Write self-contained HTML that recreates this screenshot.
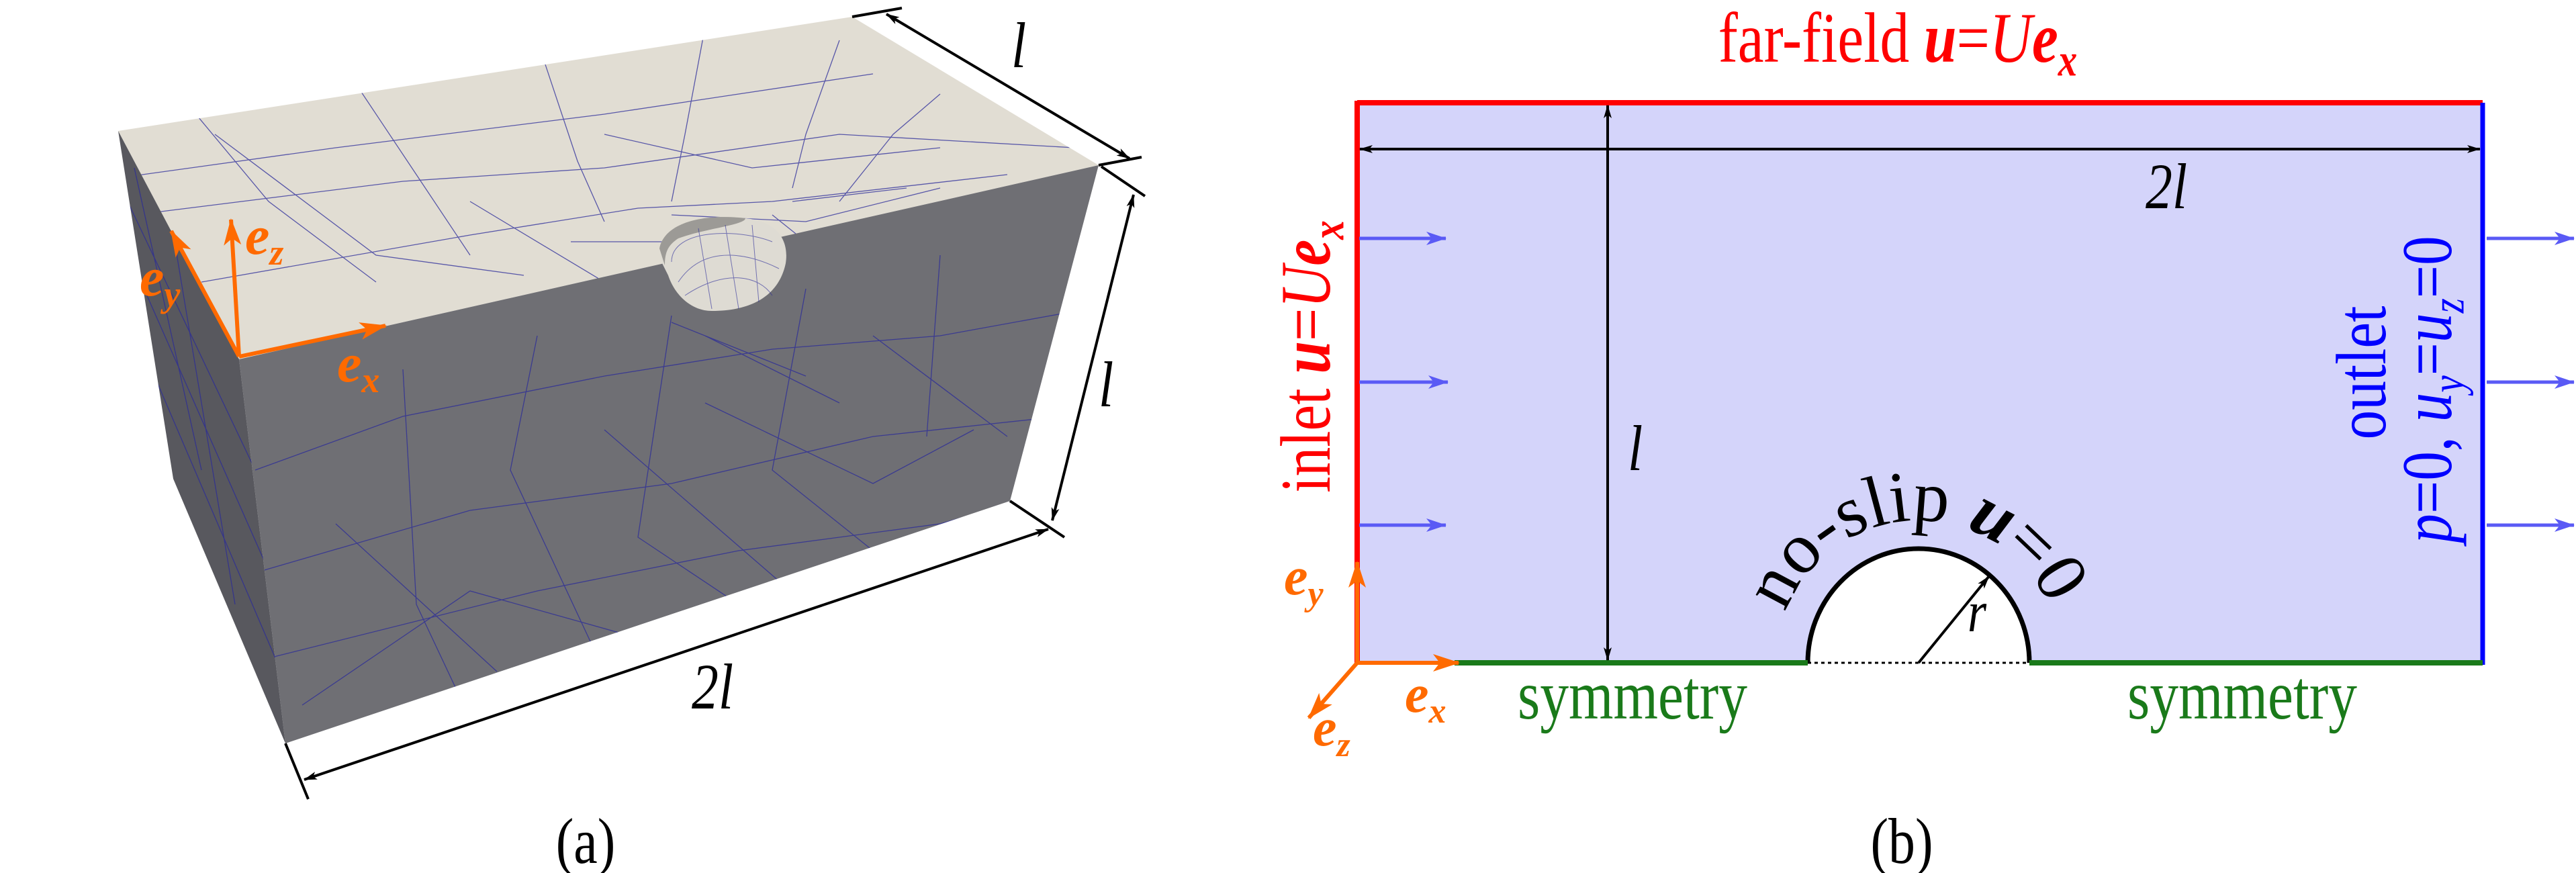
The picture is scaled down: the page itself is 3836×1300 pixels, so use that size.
<!DOCTYPE html>
<html><head><meta charset="utf-8"><style>
html,body{margin:0;padding:0;background:#fff;}
svg{display:block;}
text{font-family:"Liberation Serif",serif;}
</style></head><body>
<svg width="3836" height="1300" viewBox="0 0 3836 1300" xmlns="http://www.w3.org/2000/svg">
<defs>
<marker id="ak" viewBox="0 0 20 12" refX="19" refY="6" markerWidth="20" markerHeight="12" markerUnits="userSpaceOnUse" orient="auto-start-reverse"><path d="M0,0 L20,6 L0,12 L5,6 Z" fill="#000"/></marker>
<marker id="ab" viewBox="0 0 30 20" refX="29" refY="10" markerWidth="30" markerHeight="20" markerUnits="userSpaceOnUse" orient="auto"><path d="M0,0 L30,10 L0,20 L8,10 Z" fill="#5a5af5"/></marker>
<marker id="ao" viewBox="0 0 40 26" refX="38" refY="13" markerWidth="40" markerHeight="26" markerUnits="userSpaceOnUse" orient="auto"><path d="M0,0 L40,13 L0,26 L10,13 Z" fill="#ff6a00"/></marker>
<clipPath id="cfront"><polygon points="356,535 1636,246 1504,746 425,1107"/></clipPath>
<clipPath id="ctop"><polygon points="176,195 1269,25 1636,246 356,535"/></clipPath>
<clipPath id="cleft"><polygon points="176,195 356,535 425,1107 258,713"/></clipPath>
</defs>

<!-- Panel (a) -->
<polygon points="176,195 1269,25 1636,246 356,535" fill="#e1ddd3"/>
<polygon points="356,535 1636,246 1504,746 425,1107" fill="#6f6f74"/>
<polygon points="176,195 356,535 425,1107 258,713" fill="#58585e"/>
<g stroke="#2a2a9a" stroke-width="1.3" fill="none" opacity="0.75">
<g clip-path="url(#ctop)">
<path d="M176,265 L500,220 L900,170 L1300,110 M200,320 L600,270 L900,250 L1250,200 L1600,220 M300,420 L700,350 L950,310 L1150,300 L1500,260 M250,120 L400,300 L560,420 M500,80 L620,260 L700,380 M800,60 L860,240 L900,330 M1050,40 L1020,200 L1000,300 M1250,60 L1200,200 L1180,280 M1400,140 L1330,200 L1250,300 M320,200 L560,380 L780,410 M900,200 L1120,250 L1400,220 M1000,320 L1200,330 L1400,280 M850,360 L1100,360 M700,300 L900,420 M1180,300 L1350,280 M1150,320 L1250,400"/>
</g>
<g clip-path="url(#cfront)">
<path d="M380,700 L600,620 L900,560 L1150,520 L1400,500 L1620,460 M390,850 L700,760 L1000,720 L1300,650 L1580,620 M400,980 L800,880 L1100,820 L1400,780 L1540,740 M600,550 L620,900 L700,1070 M800,500 L760,700 L900,1000 M1000,470 L950,800 L1100,900 M1200,430 L1150,700 L1300,820 M1400,380 L1380,650 M500,780 L740,1000 M900,640 L1200,900 M1300,500 L1500,650 M450,1050 L700,880 L950,950 M1050,600 L1300,720 L1450,640 M1000,480 L1200,560 M1050,500 L1250,600"/>
</g>
<g clip-path="url(#cleft)">
<path d="M190,300 L380,700 M210,420 L400,850 M230,560 L410,980 M200,250 L300,700 M250,300 L350,900"/>
</g>
</g>
<path d="M982,370 C990,330 1050,318 1110,325 C1160,330 1175,360 1170,392 C1160,440 1120,463 1060,463 C1030,463 1005,440 995,410 L985,390 Z" fill="#dedbd3"/>
<path d="M982,370 C990,330 1050,318 1110,325 C1110,335 1050,340 1010,355 C995,365 990,375 990,395 Z" fill="#9c9a96"/>
<path d="M1000,390 C1000,340 1100,340 1150,360 M1010,420 C1050,360 1120,380 1160,400 M1020,440 C1080,400 1130,410 1150,440 M1040,340 L1060,460 M1080,335 L1100,460 M1120,335 L1130,450" stroke="#2a2a9a" stroke-width="1" fill="none" opacity="0.6"/>

<g stroke="#ff6a00" stroke-width="6" fill="none">
<line x1="356" y1="531" x2="574" y2="485" marker-end="url(#ao)"/>
<line x1="356" y1="531" x2="344" y2="327" marker-end="url(#ao)"/>
<line x1="356" y1="531" x2="255" y2="344" marker-end="url(#ao)"/>
</g>
<g fill="#ff6a00" font-weight="bold" font-style="italic" font-size="82">
<text x="365" y="378">e<tspan font-size="54" dy="16">z</tspan></text>
<text x="208" y="440">e<tspan font-size="54" dy="16">y</tspan></text>
<text x="502" y="568">e<tspan font-size="54" dy="16">x</tspan></text>
</g>

<g stroke="#000" stroke-width="4" fill="none">
<line x1="1269" y1="25" x2="1343" y2="12"/>
<line x1="1636" y1="246" x2="1700" y2="234"/>
<line x1="1320" y1="21" x2="1682" y2="236" marker-start="url(#ak)" marker-end="url(#ak)"/>
<line x1="1640" y1="248" x2="1705" y2="292"/>
<line x1="1504" y1="746" x2="1585" y2="800"/>
<line x1="1688" y1="290" x2="1567" y2="775" marker-start="url(#ak)" marker-end="url(#ak)"/>
<line x1="425" y1="1107" x2="459" y2="1190"/>
<line x1="1561" y1="788" x2="453" y2="1161" marker-start="url(#ak)" marker-end="url(#ak)"/>
</g>
<g font-size="84" font-style="italic" fill="#000">
<text transform="translate(1506,100) scale(0.95,1.15)">l</text>
<text transform="translate(1636,605) scale(0.95,1.15)">l</text>
<text transform="translate(1030,1055) scale(0.95,1.15)">2l</text>
</g>
<text transform="translate(872,1285) scale(0.95,1.15)" font-size="84" text-anchor="middle">(a)</text>

<!-- Panel (b) -->
<rect x="2021" y="153" width="1676" height="834" fill="#d4d4fa"/>
<path d="M2692,987 A165,170 0 0 1 3022,987 Z" fill="#fff"/>
<path d="M2692,987 A165,170 0 0 1 3022,987" fill="none" stroke="#000" stroke-width="7"/>
<line x1="2692" y1="987" x2="3022" y2="987" stroke="#000" stroke-width="3" stroke-dasharray="5,5"/>
<line x1="2857" y1="987" x2="2962" y2="858" stroke="#000" stroke-width="4" marker-end="url(#ak)"/>
<text transform="translate(2930,940) scale(0.95,1.15)" font-size="76" font-style="italic">r</text>

<line x1="2021" y1="153" x2="3697" y2="153" stroke="#f00" stroke-width="8"/>
<line x1="2021" y1="150" x2="2021" y2="987" stroke="#f00" stroke-width="8"/>
<line x1="3697" y1="153" x2="3697" y2="990" stroke="#00f" stroke-width="7"/>
<line x1="2166" y1="987" x2="2692" y2="987" stroke="#1a7a1a" stroke-width="8"/>
<line x1="3022" y1="987" x2="3697" y2="987" stroke="#1a7a1a" stroke-width="8"/>

<g stroke="#000" stroke-width="4">
<line x1="2025" y1="222" x2="3693" y2="222" marker-start="url(#ak)" marker-end="url(#ak)"/>
<line x1="2394" y1="157" x2="2394" y2="983" marker-start="url(#ak)" marker-end="url(#ak)"/>
</g>
<text transform="translate(3195,310) scale(0.95,1.15)" font-size="84" font-style="italic">2l</text>
<text transform="translate(2424,700) scale(0.95,1.15)" font-size="84" font-style="italic">l</text>

<g stroke="#5a5af5" stroke-width="5">
<line x1="2024" y1="355" x2="2153" y2="355" marker-end="url(#ab)"/>
<line x1="2024" y1="569" x2="2156" y2="569" marker-end="url(#ab)"/>
<line x1="2024" y1="782" x2="2153" y2="782" marker-end="url(#ab)"/>
<line x1="3703" y1="355" x2="3833" y2="355" marker-end="url(#ab)"/>
<line x1="3703" y1="569" x2="3833" y2="569" marker-end="url(#ab)"/>
<line x1="3703" y1="782" x2="3833" y2="782" marker-end="url(#ab)"/>
</g>

<text transform="translate(2826,92) scale(0.95,1.15)" font-size="92" fill="#f00" text-anchor="middle">far-field <tspan font-weight="bold" font-style="italic">u</tspan>=<tspan font-style="italic">U</tspan><tspan font-weight="bold" font-style="italic">e</tspan><tspan font-weight="bold" font-style="italic" font-size="60" dy="18">x</tspan></text>
<text transform="translate(1980,531) rotate(-90) scale(0.95,1.15)" font-size="92" fill="#f00" text-anchor="middle">inlet <tspan font-weight="bold" font-style="italic">u</tspan>=<tspan font-style="italic">U</tspan><tspan font-weight="bold" font-style="italic">e</tspan><tspan font-weight="bold" font-style="italic" font-size="60" dy="18">x</tspan></text>
<text transform="translate(3552,555) rotate(-90) scale(0.95,1.15)" font-size="92" fill="#00f" text-anchor="middle">outlet</text>
<text transform="translate(3650,580) rotate(-90) scale(0.95,1.15)" font-size="92" fill="#00f" text-anchor="middle"><tspan font-style="italic">p</tspan>=0, <tspan font-style="italic">u</tspan><tspan font-style="italic" font-size="60" dy="16">y</tspan><tspan dy="-16">=</tspan><tspan font-style="italic">u</tspan><tspan font-style="italic" font-size="60" dy="16">z</tspan><tspan dy="-16">=0</tspan></text>
<path id="arc" d="M2645,987 A212,212 0 0 1 3069,987" fill="none"/>
<text font-size="108" fill="#000"><textPath href="#arc" startOffset="11.5%">no-slip <tspan font-weight="bold" font-style="italic">u</tspan>=0</textPath></text>
<text transform="translate(2431,1070) scale(0.95,1.15)" font-size="90" fill="#1a7a1a" text-anchor="middle">symmetry</text>
<text transform="translate(3339,1070) scale(0.95,1.15)" font-size="90" fill="#1a7a1a" text-anchor="middle">symmetry</text>

<g stroke="#ff6a00" stroke-width="6">
<line x1="2021" y1="987" x2="2021" y2="837" marker-end="url(#ao)"/>
<line x1="2021" y1="987" x2="2172" y2="987" marker-end="url(#ao)"/>
<line x1="2021" y1="987" x2="1949" y2="1069" marker-end="url(#ao)"/>
</g>
<g fill="#ff6a00" font-weight="bold" font-style="italic" font-size="80">
<text x="1912" y="885">e<tspan font-size="52" dy="16">y</tspan></text>
<text x="2092" y="1060">e<tspan font-size="52" dy="16">x</tspan></text>
<text x="1955" y="1110">e<tspan font-size="52" dy="16">z</tspan></text>
</g>
<text transform="translate(2832,1285) scale(0.95,1.15)" font-size="84" text-anchor="middle">(b)</text>
</svg>
</body></html>
